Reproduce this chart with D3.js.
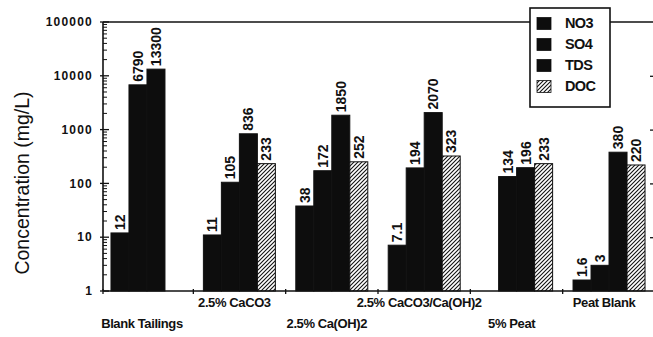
<!DOCTYPE html>
<html>
<head>
<meta charset="utf-8">
<script src="https://cdn.jsdelivr.net/npm/d3@7"></script>
<style>
  html, body { margin: 0; padding: 0; background: #fff; }
  svg { display: block; }
  text { font-family: "Liberation Sans", Arial, Helvetica, sans-serif; fill: #111; }
</style>
</head>
<body>
<svg id="chart" width="653" height="337"></svg>
<script>
// Treatments along the x axis
const categories = ["Blank Tailings", "2.5% CaCO3", "2.5% Ca(OH)2", "2.5% CaCO3/Ca(OH)2", "5% Peat", "Peat Blank"];
// Measured parameters (legend order)
const seriesNames = ["NO3", "SO4", "TDS", "DOC"];
// Concentrations in mg/L per treatment (null = not reported)
const no3 = [12, 11, 38, 7.1, null, 1.6];
const so4 = [6790, 105, 172, 194, 134, 3];
const tds = [13300, 836, 1850, 2070, 196, 380];
const doc = [null, 233, 252, 323, 233, 220];
// Y axis decade labels
const yTicks = [1, 10, 100, 1000, 10000, 100000];
// Value label text as printed above each bar
const valueText = v => String(v);

const seriesValues = [no3, so4, tds, doc];

const svg = d3.select("#chart");
const W = 653;
const plotLeft = 103, plotTop = 22, plotBottom = 291;

// hatch pattern for DOC
const defs = svg.append("defs");
const pat = defs.append("pattern")
  .attr("id", "hatch").attr("patternUnits", "userSpaceOnUse")
  .attr("width", 4).attr("height", 4);
pat.append("rect").attr("width", 4).attr("height", 4).attr("fill", "#fff");
pat.append("path").attr("d", "M-1,1 l2,-2 M0,4 l4,-4 M3,5 l2,-2")
  .attr("stroke", "#111").attr("stroke-width", 1.1);

const y = d3.scaleLog().domain([1, 100000]).range([plotBottom, plotTop]);

const x0 = d3.scaleBand().domain(categories).range([101, 655])
  .paddingInner(0.221).paddingOuter(0.108);
const x1 = d3.scaleBand().domain(seriesNames).range([0, x0.bandwidth()]).padding(0);

const fillFor = s => s === "DOC" ? "url(#hatch)" : "#0d0d0d";

// top frame line
svg.append("line").attr("x1", plotLeft).attr("x2", W).attr("y1", plotTop).attr("y2", plotTop)
  .attr("stroke", "#111").attr("stroke-width", 1.6);

// bars
const rows = [];
categories.forEach((c, i) => seriesNames.forEach((s, j) => {
  const v = seriesValues[j][i];
  if (v != null) rows.push({ c, s, v });
}));

svg.append("g").selectAll("rect").data(rows).join("rect")
  .attr("x", d => x0(d.c) + x1(d.s))
  .attr("y", d => y(d.v))
  .attr("width", x1.bandwidth())
  .attr("height", d => y(1) - y(d.v))
  .attr("fill", d => fillFor(d.s))
  .attr("stroke", "#111").attr("stroke-width", 1);

// value labels set along upward paths, so they read bottom to top
const labels = svg.append("g");
rows.forEach((d, i) => {
  const cx = x0(d.c) + x1(d.s) + x1.bandwidth() / 2;
  const y0 = y(d.v) - 3;
  const id = "vlabel-path-" + i;
  defs.append("path").attr("id", id)
    .attr("d", `M${cx + 5},${y0} L${cx + 5},${y0 - 80}`);
  const probe = labels.append("text")
    .style("font-size", "14px").style("font-weight", "bold")
    .text(valueText(d.v));
  const len = probe.node().getComputedTextLength();
  probe.remove();
  // white backing so the frame line is interrupted behind the number
  labels.append("rect")
    .attr("x", cx - 6).attr("y", y0 - len - 2)
    .attr("width", 12).attr("height", len + 3)
    .attr("fill", "#fff");
  labels.append("text")
    .style("font-size", "14px").style("font-weight", "bold")
    .append("textPath")
    .attr("href", "#" + id)
    .attr("startOffset", 0)
    .text(valueText(d.v));
});

// y axis
const yAxis = svg.append("g").attr("transform", `translate(${plotLeft},0)`);
yAxis.append("line").attr("x1", 0).attr("x2", 0).attr("y1", plotTop).attr("y2", plotBottom)
  .attr("stroke", "#111").attr("stroke-width", 1.6);
const minor = [];
for (let d = 1; d < 100000; d *= 10) for (let k = 2; k <= 9; k++) minor.push(d * k);
yAxis.selectAll("line.minor").data(minor).join("line").attr("class", "minor")
  .attr("x1", 0).attr("x2", 4).attr("y1", d => y(d)).attr("y2", d => y(d))
  .attr("stroke", "#111").attr("stroke-width", 1);
yAxis.selectAll("line.major").data(yTicks).join("line").attr("class", "major")
  .attr("x1", -3).attr("x2", 6).attr("y1", d => y(d)).attr("y2", d => y(d))
  .attr("stroke", "#111").attr("stroke-width", 1.3);
yAxis.selectAll("text").data(yTicks).join("text")
  .attr("x", -10).attr("y", d => y(d)).attr("dy", "0.35em")
  .attr("text-anchor", "end")
  .style("font-size", "12px").style("font-weight", "bold").style("letter-spacing", "1.2px")
  .text(d => d);

// right-side decade ticks
svg.append("g").attr("transform", `translate(${W},0)`)
  .call(d3.axisRight(y).tickValues(yTicks.slice(1, 5)).tickSize(-3).tickFormat(""))
  .call(g => g.select(".domain").remove())
  .call(g => g.selectAll(".tick line").attr("stroke", "#111").attr("stroke-width", 1.3));

// x axis with ticks between treatment groups
const xb = d3.scaleLinear().domain([0, categories.length]).range([101, 655]);
const edgeIdx = d3.range(0, categories.length + 1);
const xAxis = svg.append("g").attr("transform", `translate(0,${plotBottom})`);
xAxis.append("line").attr("x1", plotLeft).attr("x2", W).attr("y1", 0).attr("y2", 0)
  .attr("stroke", "#111").attr("stroke-width", 1.6);
xAxis.selectAll("line.t").data(edgeIdx.filter(i => xb(i) < W)).join("line").attr("class", "t")
  .attr("x1", i => Math.max(plotLeft, xb(i))).attr("x2", i => Math.max(plotLeft, xb(i)))
  .attr("y1", -2).attr("y2", 3).attr("stroke", "#111").attr("stroke-width", 1.3);

// staggered category labels
xAxis.selectAll("text").data(categories).join("text")
  .attr("x", c => x0(c) + x0.bandwidth() / 2 - 5)
  .attr("y", (c, i) => i % 2 === 1 ? 16 : 37)
  .attr("text-anchor", "middle")
  .style("font-size", "13px").style("font-weight", "bold").style("letter-spacing", "-0.4px")
  .text(c => c);

// y axis title
svg.append("text")
  .attr("transform", `translate(29,183) rotate(-90)`)
  .attr("text-anchor", "middle")
  .style("font-size", "19.5px")
  .text("Concentration (mg/L)");

// legend
const lg = svg.append("g").attr("transform", "translate(530,8)");
lg.append("rect").attr("width", 80).attr("height", 99)
  .attr("fill", "#fff").attr("stroke", "#111").attr("stroke-width", 1.6);
const li = lg.selectAll("g").data(seriesNames).join("g")
  .attr("transform", (d, i) => `translate(0,${15 + i * 21})`);
li.append("rect").attr("x", 7).attr("y", -5.5).attr("width", 14).attr("height", 12)
  .attr("fill", d => fillFor(d)).attr("stroke", "#111").attr("stroke-width", 0.8);
li.append("text").attr("x", 35).attr("y", 0).attr("dy", "0.36em")
  .style("font-size", "14.5px").style("font-weight", "bold").style("letter-spacing", "-0.6px")
  .text(d => d);
</script>
</body>
</html>
